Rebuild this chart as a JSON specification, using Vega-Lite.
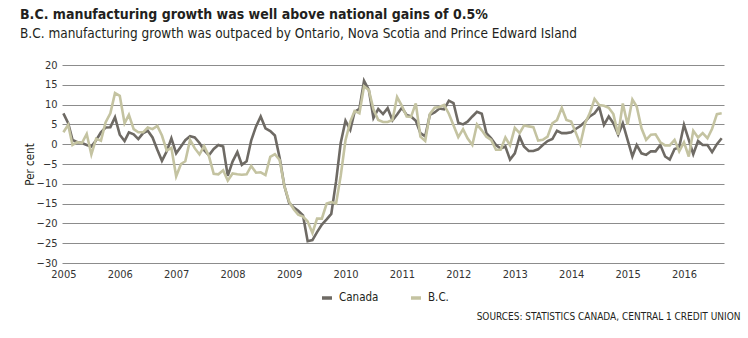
{
  "$schema": "https://vega.github.io/schema/vega-lite/v6.json",
  "width": 662,
  "height": 198,
  "autosize": {"type": "none"},
  "padding": {"left": 62, "top": 65, "right": 24, "bottom": 75},
  "background": "white",
  "config": {
    "font": "'Liberation Sans Narrow', 'DejaVu Sans Condensed', sans-serif",
    "view": {"stroke": null}
  },
  "title": {
    "text": "B.C. manufacturing growth was well above national gains of 0.5%",
    "subtitle": "B.C. manufacturing growth was outpaced by Ontario, Nova Scotia and Prince Edward  Island",
    "anchor": "start",
    "frame": "group",
    "dx": -42,
    "offset": 19,
    "fontSize": 14,
    "fontWeight": "bold",
    "color": "#231f20",
    "subtitleFontSize": 13.5,
    "subtitleColor": "#231f20",
    "subtitlePadding": 5
  },
  "data": {"values": [
    {"month":"2005-01-01","series":"Canada","value":7.8},{"month":"2005-02-01","series":"Canada","value":5.3},{"month":"2005-03-01","series":"Canada","value":1.1},{"month":"2005-04-01","series":"Canada","value":0.5},{"month":"2005-05-01","series":"Canada","value":0.3},{"month":"2005-06-01","series":"Canada","value":-0.2},{"month":"2005-07-01","series":"Canada","value":-0.6},{"month":"2005-08-01","series":"Canada","value":1.0},{"month":"2005-09-01","series":"Canada","value":3.0},{"month":"2005-10-01","series":"Canada","value":4.2},{"month":"2005-11-01","series":"Canada","value":4.3},{"month":"2005-12-01","series":"Canada","value":6.8},
    {"month":"2006-01-01","series":"Canada","value":2.4},{"month":"2006-02-01","series":"Canada","value":0.8},{"month":"2006-03-01","series":"Canada","value":3.0},{"month":"2006-04-01","series":"Canada","value":2.5},{"month":"2006-05-01","series":"Canada","value":1.3},{"month":"2006-06-01","series":"Canada","value":2.8},{"month":"2006-07-01","series":"Canada","value":3.4},{"month":"2006-08-01","series":"Canada","value":1.7},{"month":"2006-09-01","series":"Canada","value":-1.4},{"month":"2006-10-01","series":"Canada","value":-4.2},{"month":"2006-11-01","series":"Canada","value":-1.8},{"month":"2006-12-01","series":"Canada","value":1.5},
    {"month":"2007-01-01","series":"Canada","value":-2.3},{"month":"2007-02-01","series":"Canada","value":-0.6},{"month":"2007-03-01","series":"Canada","value":1.0},{"month":"2007-04-01","series":"Canada","value":2.0},{"month":"2007-05-01","series":"Canada","value":1.7},{"month":"2007-06-01","series":"Canada","value":0.3},{"month":"2007-07-01","series":"Canada","value":-1.5},{"month":"2007-08-01","series":"Canada","value":-2.8},{"month":"2007-09-01","series":"Canada","value":-1.2},{"month":"2007-10-01","series":"Canada","value":-0.2},{"month":"2007-11-01","series":"Canada","value":-0.6},{"month":"2007-12-01","series":"Canada","value":-8.0},
    {"month":"2008-01-01","series":"Canada","value":-4.4},{"month":"2008-02-01","series":"Canada","value":-2.0},{"month":"2008-03-01","series":"Canada","value":-5.2},{"month":"2008-04-01","series":"Canada","value":-4.3},{"month":"2008-05-01","series":"Canada","value":1.0},{"month":"2008-06-01","series":"Canada","value":4.5},{"month":"2008-07-01","series":"Canada","value":7.0},{"month":"2008-08-01","series":"Canada","value":4.0},{"month":"2008-09-01","series":"Canada","value":3.3},{"month":"2008-10-01","series":"Canada","value":2.2},{"month":"2008-11-01","series":"Canada","value":-3.5},{"month":"2008-12-01","series":"Canada","value":-10.5},
    {"month":"2009-01-01","series":"Canada","value":-14.8},{"month":"2009-02-01","series":"Canada","value":-16.0},{"month":"2009-03-01","series":"Canada","value":-16.8},{"month":"2009-04-01","series":"Canada","value":-18.0},{"month":"2009-05-01","series":"Canada","value":-24.5},{"month":"2009-06-01","series":"Canada","value":-24.2},{"month":"2009-07-01","series":"Canada","value":-22.2},{"month":"2009-08-01","series":"Canada","value":-20.3},{"month":"2009-09-01","series":"Canada","value":-19.0},{"month":"2009-10-01","series":"Canada","value":-17.6},{"month":"2009-11-01","series":"Canada","value":-9.4},{"month":"2009-12-01","series":"Canada","value":0.3},
    {"month":"2010-01-01","series":"Canada","value":5.9},{"month":"2010-02-01","series":"Canada","value":3.6},{"month":"2010-03-01","series":"Canada","value":8.2},{"month":"2010-04-01","series":"Canada","value":8.9},{"month":"2010-05-01","series":"Canada","value":16.0},{"month":"2010-06-01","series":"Canada","value":13.7},{"month":"2010-07-01","series":"Canada","value":6.6},{"month":"2010-08-01","series":"Canada","value":8.9},{"month":"2010-09-01","series":"Canada","value":7.6},{"month":"2010-10-01","series":"Canada","value":9.1},{"month":"2010-11-01","series":"Canada","value":6.0},{"month":"2010-12-01","series":"Canada","value":7.5},
    {"month":"2011-01-01","series":"Canada","value":9.2},{"month":"2011-02-01","series":"Canada","value":7.4},{"month":"2011-03-01","series":"Canada","value":7.0},{"month":"2011-04-01","series":"Canada","value":5.9},{"month":"2011-05-01","series":"Canada","value":2.8},{"month":"2011-06-01","series":"Canada","value":2.0},{"month":"2011-07-01","series":"Canada","value":7.4},{"month":"2011-08-01","series":"Canada","value":8.0},{"month":"2011-09-01","series":"Canada","value":9.0},{"month":"2011-10-01","series":"Canada","value":8.8},{"month":"2011-11-01","series":"Canada","value":11.0},{"month":"2011-12-01","series":"Canada","value":10.4},
    {"month":"2012-01-01","series":"Canada","value":5.4},{"month":"2012-02-01","series":"Canada","value":5.0},{"month":"2012-03-01","series":"Canada","value":5.7},{"month":"2012-04-01","series":"Canada","value":7.0},{"month":"2012-05-01","series":"Canada","value":8.2},{"month":"2012-06-01","series":"Canada","value":7.7},{"month":"2012-07-01","series":"Canada","value":2.8},{"month":"2012-08-01","series":"Canada","value":1.5},{"month":"2012-09-01","series":"Canada","value":-0.2},{"month":"2012-10-01","series":"Canada","value":-1.1},{"month":"2012-11-01","series":"Canada","value":-0.6},{"month":"2012-12-01","series":"Canada","value":-3.9},
    {"month":"2013-01-01","series":"Canada","value":-2.3},{"month":"2013-02-01","series":"Canada","value":1.9},{"month":"2013-03-01","series":"Canada","value":-0.6},{"month":"2013-04-01","series":"Canada","value":-1.7},{"month":"2013-05-01","series":"Canada","value":-1.7},{"month":"2013-06-01","series":"Canada","value":-1.3},{"month":"2013-07-01","series":"Canada","value":-0.2},{"month":"2013-08-01","series":"Canada","value":0.8},{"month":"2013-09-01","series":"Canada","value":1.3},{"month":"2013-10-01","series":"Canada","value":3.4},{"month":"2013-11-01","series":"Canada","value":2.8},{"month":"2013-12-01","series":"Canada","value":2.8},
    {"month":"2014-01-01","series":"Canada","value":3.0},{"month":"2014-02-01","series":"Canada","value":3.9},{"month":"2014-03-01","series":"Canada","value":4.6},{"month":"2014-04-01","series":"Canada","value":5.7},{"month":"2014-05-01","series":"Canada","value":7.0},{"month":"2014-06-01","series":"Canada","value":7.8},{"month":"2014-07-01","series":"Canada","value":9.4},{"month":"2014-08-01","series":"Canada","value":4.9},{"month":"2014-09-01","series":"Canada","value":7.0},{"month":"2014-10-01","series":"Canada","value":5.3},{"month":"2014-11-01","series":"Canada","value":2.4},{"month":"2014-12-01","series":"Canada","value":5.3},
    {"month":"2015-01-01","series":"Canada","value":1.1},{"month":"2015-02-01","series":"Canada","value":-3.1},{"month":"2015-03-01","series":"Canada","value":-0.2},{"month":"2015-04-01","series":"Canada","value":-2.3},{"month":"2015-05-01","series":"Canada","value":-2.7},{"month":"2015-06-01","series":"Canada","value":-1.8},{"month":"2015-07-01","series":"Canada","value":-1.8},{"month":"2015-08-01","series":"Canada","value":-0.2},{"month":"2015-09-01","series":"Canada","value":-3.1},{"month":"2015-10-01","series":"Canada","value":-3.9},{"month":"2015-11-01","series":"Canada","value":-1.2},{"month":"2015-12-01","series":"Canada","value":-0.8},
    {"month":"2016-01-01","series":"Canada","value":4.9},{"month":"2016-02-01","series":"Canada","value":1.1},{"month":"2016-03-01","series":"Canada","value":-2.5},{"month":"2016-04-01","series":"Canada","value":0.8},{"month":"2016-05-01","series":"Canada","value":-0.2},{"month":"2016-06-01","series":"Canada","value":-0.2},{"month":"2016-07-01","series":"Canada","value":-2.0},{"month":"2016-08-01","series":"Canada","value":0.0},{"month":"2016-09-01","series":"Canada","value":1.5},
    {"month":"2005-01-01","series":"B.C.","value":3.0},{"month":"2005-02-01","series":"B.C.","value":4.9},{"month":"2005-03-01","series":"B.C.","value":-0.2},{"month":"2005-04-01","series":"B.C.","value":0.5},{"month":"2005-05-01","series":"B.C.","value":0.3},{"month":"2005-06-01","series":"B.C.","value":2.6},{"month":"2005-07-01","series":"B.C.","value":-2.6},{"month":"2005-08-01","series":"B.C.","value":1.4},{"month":"2005-09-01","series":"B.C.","value":0.9},{"month":"2005-10-01","series":"B.C.","value":5.5},{"month":"2005-11-01","series":"B.C.","value":7.8},{"month":"2005-12-01","series":"B.C.","value":12.9},
    {"month":"2006-01-01","series":"B.C.","value":12.2},{"month":"2006-02-01","series":"B.C.","value":5.3},{"month":"2006-03-01","series":"B.C.","value":7.4},{"month":"2006-04-01","series":"B.C.","value":3.8},{"month":"2006-05-01","series":"B.C.","value":3.0},{"month":"2006-06-01","series":"B.C.","value":3.0},{"month":"2006-07-01","series":"B.C.","value":4.2},{"month":"2006-08-01","series":"B.C.","value":3.8},{"month":"2006-09-01","series":"B.C.","value":4.6},{"month":"2006-10-01","series":"B.C.","value":2.2},{"month":"2006-11-01","series":"B.C.","value":-1.6},{"month":"2006-12-01","series":"B.C.","value":-0.9},
    {"month":"2007-01-01","series":"B.C.","value":-8.1},{"month":"2007-02-01","series":"B.C.","value":-5.0},{"month":"2007-03-01","series":"B.C.","value":-4.3},{"month":"2007-04-01","series":"B.C.","value":1.1},{"month":"2007-05-01","series":"B.C.","value":-1.0},{"month":"2007-06-01","series":"B.C.","value":-2.6},{"month":"2007-07-01","series":"B.C.","value":-0.5},{"month":"2007-08-01","series":"B.C.","value":-3.0},{"month":"2007-09-01","series":"B.C.","value":-7.5},{"month":"2007-10-01","series":"B.C.","value":-7.6},{"month":"2007-11-01","series":"B.C.","value":-6.6},{"month":"2007-12-01","series":"B.C.","value":-9.2},
    {"month":"2008-01-01","series":"B.C.","value":-7.4},{"month":"2008-02-01","series":"B.C.","value":-7.6},{"month":"2008-03-01","series":"B.C.","value":-7.7},{"month":"2008-04-01","series":"B.C.","value":-7.6},{"month":"2008-05-01","series":"B.C.","value":-5.5},{"month":"2008-06-01","series":"B.C.","value":-7.2},{"month":"2008-07-01","series":"B.C.","value":-7.1},{"month":"2008-08-01","series":"B.C.","value":-7.8},{"month":"2008-09-01","series":"B.C.","value":-3.2},{"month":"2008-10-01","series":"B.C.","value":-2.5},{"month":"2008-11-01","series":"B.C.","value":-4.0},{"month":"2008-12-01","series":"B.C.","value":-10.5},
    {"month":"2009-01-01","series":"B.C.","value":-14.5},{"month":"2009-02-01","series":"B.C.","value":-16.5},{"month":"2009-03-01","series":"B.C.","value":-17.8},{"month":"2009-04-01","series":"B.C.","value":-18.3},{"month":"2009-05-01","series":"B.C.","value":-19.5},{"month":"2009-06-01","series":"B.C.","value":-22.4},{"month":"2009-07-01","series":"B.C.","value":-18.8},{"month":"2009-08-01","series":"B.C.","value":-18.8},{"month":"2009-09-01","series":"B.C.","value":-15.0},{"month":"2009-10-01","series":"B.C.","value":-14.6},{"month":"2009-11-01","series":"B.C.","value":-15.0},{"month":"2009-12-01","series":"B.C.","value":-8.0},
    {"month":"2010-01-01","series":"B.C.","value":1.0},{"month":"2010-02-01","series":"B.C.","value":5.7},{"month":"2010-03-01","series":"B.C.","value":8.4},{"month":"2010-04-01","series":"B.C.","value":7.8},{"month":"2010-05-01","series":"B.C.","value":14.6},{"month":"2010-06-01","series":"B.C.","value":13.7},{"month":"2010-07-01","series":"B.C.","value":8.8},{"month":"2010-08-01","series":"B.C.","value":6.1},{"month":"2010-09-01","series":"B.C.","value":5.6},{"month":"2010-10-01","series":"B.C.","value":5.6},{"month":"2010-11-01","series":"B.C.","value":6.1},{"month":"2010-12-01","series":"B.C.","value":11.9},
    {"month":"2011-01-01","series":"B.C.","value":9.7},{"month":"2011-02-01","series":"B.C.","value":7.0},{"month":"2011-03-01","series":"B.C.","value":6.9},{"month":"2011-04-01","series":"B.C.","value":10.3},{"month":"2011-05-01","series":"B.C.","value":1.9},{"month":"2011-06-01","series":"B.C.","value":0.8},{"month":"2011-07-01","series":"B.C.","value":7.6},{"month":"2011-08-01","series":"B.C.","value":9.2},{"month":"2011-09-01","series":"B.C.","value":9.4},{"month":"2011-10-01","series":"B.C.","value":9.9},{"month":"2011-11-01","series":"B.C.","value":7.7},{"month":"2011-12-01","series":"B.C.","value":4.8},
    {"month":"2012-01-01","series":"B.C.","value":1.8},{"month":"2012-02-01","series":"B.C.","value":3.8},{"month":"2012-03-01","series":"B.C.","value":1.5},{"month":"2012-04-01","series":"B.C.","value":-0.2},{"month":"2012-05-01","series":"B.C.","value":5.0},{"month":"2012-06-01","series":"B.C.","value":3.5},{"month":"2012-07-01","series":"B.C.","value":1.9},{"month":"2012-08-01","series":"B.C.","value":1.1},{"month":"2012-09-01","series":"B.C.","value":-1.4},{"month":"2012-10-01","series":"B.C.","value":-1.4},{"month":"2012-11-01","series":"B.C.","value":1.7},{"month":"2012-12-01","series":"B.C.","value":-0.3},
    {"month":"2013-01-01","series":"B.C.","value":4.1},{"month":"2013-02-01","series":"B.C.","value":2.8},{"month":"2013-03-01","series":"B.C.","value":4.7},{"month":"2013-04-01","series":"B.C.","value":4.5},{"month":"2013-05-01","series":"B.C.","value":4.3},{"month":"2013-06-01","series":"B.C.","value":0.9},{"month":"2013-07-01","series":"B.C.","value":1.1},{"month":"2013-08-01","series":"B.C.","value":1.9},{"month":"2013-09-01","series":"B.C.","value":5.3},{"month":"2013-10-01","series":"B.C.","value":6.1},{"month":"2013-11-01","series":"B.C.","value":9.2},{"month":"2013-12-01","series":"B.C.","value":6.1},
    {"month":"2014-01-01","series":"B.C.","value":5.7},{"month":"2014-02-01","series":"B.C.","value":2.8},{"month":"2014-03-01","series":"B.C.","value":0.0},{"month":"2014-04-01","series":"B.C.","value":5.3},{"month":"2014-05-01","series":"B.C.","value":7.8},{"month":"2014-06-01","series":"B.C.","value":11.4},{"month":"2014-07-01","series":"B.C.","value":9.9},{"month":"2014-08-01","series":"B.C.","value":9.7},{"month":"2014-09-01","series":"B.C.","value":9.2},{"month":"2014-10-01","series":"B.C.","value":7.6},{"month":"2014-11-01","series":"B.C.","value":2.4},{"month":"2014-12-01","series":"B.C.","value":10.3},
    {"month":"2015-01-01","series":"B.C.","value":4.9},{"month":"2015-02-01","series":"B.C.","value":11.3},{"month":"2015-03-01","series":"B.C.","value":9.5},{"month":"2015-04-01","series":"B.C.","value":4.0},{"month":"2015-05-01","series":"B.C.","value":1.1},{"month":"2015-06-01","series":"B.C.","value":2.4},{"month":"2015-07-01","series":"B.C.","value":2.5},{"month":"2015-08-01","series":"B.C.","value":0.5},{"month":"2015-09-01","series":"B.C.","value":-0.3},{"month":"2015-10-01","series":"B.C.","value":-0.3},{"month":"2015-11-01","series":"B.C.","value":1.1},{"month":"2015-12-01","series":"B.C.","value":-1.8},
    {"month":"2016-01-01","series":"B.C.","value":0.5},{"month":"2016-02-01","series":"B.C.","value":-3.1},{"month":"2016-03-01","series":"B.C.","value":3.4},{"month":"2016-04-01","series":"B.C.","value":1.7},{"month":"2016-05-01","series":"B.C.","value":2.8},{"month":"2016-06-01","series":"B.C.","value":1.5},{"month":"2016-07-01","series":"B.C.","value":3.9},{"month":"2016-08-01","series":"B.C.","value":7.6},{"month":"2016-09-01","series":"B.C.","value":7.8}
  ]},
  "encoding": {
    "x": {
      "field": "month",
      "type": "temporal",
      "scale": {
        "type": "utc",
        "domain": [
          {"year": 2004, "month": 12, "date": 23, "utc": true},
          {"year": 2016, "month": 9, "date": 16, "utc": true}
        ]
      },
      "axis": {
        "format": "%Y",
        "formatType": "utc",
        "tickCount": {"interval": "year", "step": 1},
        "grid": false,
        "domain": false,
        "ticks": false,
        "labelPadding": 5,
        "labelFontSize": 11,
        "labelColor": "#333333",
        "labelFlush": false,
        "labelOverlap": false,
        "title": "SOURCES: STATISTICS CANADA, CENTRAL 1 CREDIT UNION",
        "titleFontSize": 10,
        "titleFontWeight": "normal",
        "titleColor": "#231f20",
        "titleAlign": "right",
        "titleBaseline": "middle",
        "titleX": 678,
        "titleY": 53
      }
    },
    "y": {
      "field": "value",
      "type": "quantitative",
      "scale": {"domain": [-30, 20], "nice": false, "zero": false},
      "axis": {
        "title": "Per cent",
        "values": [-30, -25, -20, -15, -10, -5, 0, 5, 10, 15, 20],
        "grid": true,
        "gridColor": "#8c8c8c",
        "gridWidth": 1,
        "domain": false,
        "ticks": false,
        "labelPadding": 5,
        "labelFontSize": 11,
        "labelColor": "#333333",
        "titleFontSize": 11.5,
        "titleFontWeight": "normal",
        "titleColor": "#231f20",
        "titleAngle": 270,
        "titleAlign": "center",
        "titleBaseline": "middle",
        "titleX": -32,
        "titleY": 99
      }
    },
    "color": {
      "field": "series",
      "type": "nominal",
      "scale": {"domain": ["Canada", "B.C."], "range": ["#6e6a64", "#c4c3a1"]},
      "legend": {
        "title": null,
        "orient": "none",
        "direction": "horizontal",
        "legendX": 258,
        "legendY": 226,
        "symbolType": "stroke",
        "symbolSize": 100,
        "symbolStrokeWidth": 3.5,
        "labelFontSize": 11.5,
        "labelColor": "#231f20",
        "labelOffset": 5,
        "columnPadding": 25
      }
    }
  },
  "layer": [
    {"transform": [{"filter": "datum.series === 'Canada'"}], "mark": {"type": "line", "strokeWidth": 2.6}},
    {"transform": [{"filter": "datum.series === 'B.C.'"}], "mark": {"type": "line", "strokeWidth": 2.6}}
  ]
}
